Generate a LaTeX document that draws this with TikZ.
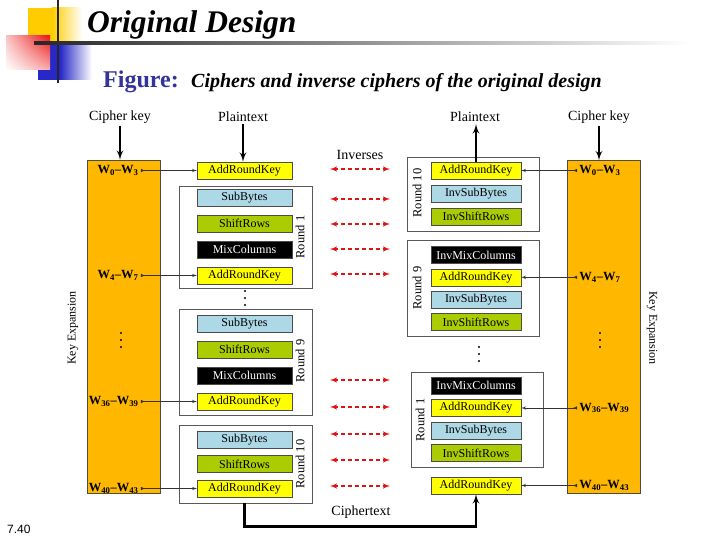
\documentclass[tikz,border=0pt]{standalone}
\usepackage{fontspec}
\setmainfont{Liberation Serif}
\newfontfamily\slidesans{Liberation Sans}
\usepackage{tikz}
\usetikzlibrary{arrows, positioning, shadings}
\usepackage{xcolor}
\definecolor{keyorange}{RGB}{255,183,0}
\definecolor{arkyellow}{RGB}{255,255,0}
\definecolor{subblue}{RGB}{173,216,230}
\definecolor{shiftgreen}{RGB}{170,204,0}
\definecolor{figblue}{RGB}{51,51,153}
\definecolor{invred}{RGB}{225,20,20}
\definecolor{decoyellow}{RGB}{255,204,0}
\definecolor{decoblue}{RGB}{40,40,200}
\definecolor{decored}{RGB}{235,20,20}
\tikzstyle{stagebox} = [rectangle, draw=gray!60!black, line width=0.4pt, minimum width=95pt, minimum height=17pt, inner sep=0pt, font=\fontsize{12}{12}\selectfont]
\tikzstyle{arkbox} = [stagebox, fill=arkyellow]
\tikzstyle{subbox} = [stagebox, fill=subblue]
\tikzstyle{shiftbox} = [stagebox, fill=shiftgreen]
\tikzstyle{mixbox} = [stagebox, fill=black, text=white]
\tikzstyle{invbox} = [minimum width=90pt]
\tikzstyle{roundframe} = [rectangle, draw=gray!70!black, fill=white, line width=0.8pt, inner sep=0pt]
\tikzstyle{roundlbl} = [rotate=90, font=\fontsize{12.5}{12.5}\selectfont, inner sep=0pt]
\tikzstyle{keybar} = [rectangle, draw=black!70, fill=keyorange, minimum width=73pt, minimum height=333pt, inner sep=0pt]
\tikzstyle{wlbl} = [font=\fontsize{12.5}{12.5}\selectfont, inner sep=2pt]
\tikzstyle{toplbl} = [font=\fontsize{14}{14}\selectfont, inner sep=2pt]
\tikzstyle{sidelbl} = [font=\fontsize{12}{12}\selectfont, inner sep=0pt]
\tikzstyle{keyline} = [draw, black!80, line width=0.6pt, latex reversed-latex']
\tikzstyle{bigline} = [draw, line width=2.2pt, -latex']
\tikzstyle{invline} = [draw, invred, line width=1.4pt, dash pattern=on 4pt off 3pt, latex'-latex']
\newcommand{\wrange}[2]{\textbf{W\textsubscript{#1}--W\textsubscript{#2}}}

\begin{document}
\begin{tikzpicture}[x=1pt, y=-1pt, node distance=26pt]
    \useasboundingbox (0,0) rectangle (720,540);

    % Slide decoration
    \fill[decoyellow] (28,8) rectangle (52,42);
    \shade[left color=decoyellow, right color=white] (52,8) rectangle (82,42);
    \fill[decoblue] (38,43) rectangle (60,80);
    \shade[left color=decoblue, right color=white] (60,43) rectangle (92,80);
    \shade[upper left=decored!25!white, upper right=decored, lower left=white, lower right=decored!35!white] (6,36) rectangle (50,70);
    \draw[black!85, line width=2pt] (58,0) -- (58,83);
    \shade[left color=black!85, right color=white] (34,42) rectangle (690,44.5);

    % Titles
    \node[anchor=base west, inner sep=0pt, font=\fontsize{31.5}{31.5}\selectfont\bfseries\itshape] (title) at (87,33) {Original Design};
    \node[anchor=base west, inner sep=0pt, font=\fontsize{24}{24}\selectfont\bfseries, text=figblue] (figword) at (103,88) {Figure:};
    \node[anchor=base west, inner sep=0pt, font=\fontsize{20}{20}\selectfont\bfseries\itshape] (caption) at (191,88) {Ciphers and inverse ciphers of the original design};
    \node[anchor=base west, inner sep=0pt, font=\slidesans\fontsize{12}{12}\selectfont] (pageno) at (7,533) {7.40};

    % Key expansion bars
    \node[keybar] (keyL) at (123.5,326.5) {};
    \node[keybar] (keyR) at (603.5,327) {};
    \node[sidelbl, rotate=90] (kexL) at (73,328) {Key Expansion};
    \node[sidelbl, rotate=-90] (kexR) at (652,328) {Key Expansion};

    % Cipher rounds
    \node[roundframe, minimum width=133pt, minimum height=102pt] (enc1) at (245.5,237) {};
    \node[roundframe, minimum width=133pt, minimum height=106pt] (enc9) at (245.5,362) {};
    \node[roundframe, minimum width=133pt, minimum height=78pt] (enc10) at (245.5,464) {};
    \node[roundlbl] (lenc1) at (300,237) {Round 1};
    \node[roundlbl] (lenc9) at (300,361) {Round 9};
    \node[roundlbl] (lenc10) at (300,464) {Round 10};

    \node[arkbox] (ark0) at (244.5,170.5) {AddRoundKey};
    \node[subbox] (sb1) at (244.5,197.5) {SubBytes};
    \node[shiftbox, below of=sb1] (sr1) {ShiftRows};
    \node[mixbox, below of=sr1] (mc1) {MixColumns};
    \node[arkbox, below of=mc1] (ark1) {AddRoundKey};

    \node[subbox] (sb9) at (244.5,323.5) {SubBytes};
    \node[shiftbox, below of=sb9] (sr9) {ShiftRows};
    \node[mixbox, below of=sr9] (mc9) {MixColumns};
    \node[arkbox, below of=mc9] (ark9) {AddRoundKey};

    \node[subbox] (sb10) at (244.5,439.5) {SubBytes};
    \node[shiftbox, below of=sb10, node distance=24.5pt] (sr10) {ShiftRows};
    \node[arkbox, below of=sr10, node distance=24.5pt] (ark10) {AddRoundKey};

    % Inverse cipher rounds
    \node[roundframe, minimum width=132pt, minimum height=74pt] (dec10) at (473,194) {};
    \node[roundframe, minimum width=132pt, minimum height=96pt] (dec9) at (473,288) {};
    \node[roundframe, minimum width=132pt, minimum height=95pt] (dec1) at (477,419.5) {};
    \node[roundlbl] (ldec10) at (417,193) {Round 10};
    \node[roundlbl] (ldec9) at (417,288) {Round 9};
    \node[roundlbl] (ldec1) at (420,420) {Round 1};

    \node[arkbox, invbox] (dark10) at (476,170.5) {AddRoundKey};
    \node[subbox, invbox, below of=dark10, node distance=23pt] (dsb10) {InvSubBytes};
    \node[shiftbox, invbox, below of=dsb10, node distance=23pt] (dsr10) {InvShiftRows};

    \node[mixbox, invbox] (dmc9) at (476,255) {InvMixColumns};
    \node[arkbox, invbox, below of=dmc9, node distance=22.3pt] (dark9) {AddRoundKey};
    \node[subbox, invbox, below of=dark9, node distance=22.3pt] (dsb9) {InvSubBytes};
    \node[shiftbox, invbox, below of=dsb9, node distance=22.3pt] (dsr9) {InvShiftRows};

    \node[mixbox, invbox] (dmc1) at (476,385.5) {InvMixColumns};
    \node[arkbox, invbox, below of=dmc1, node distance=22.5pt] (dark1) {AddRoundKey};
    \node[subbox, invbox, below of=dark1, node distance=22.5pt] (dsb1) {InvSubBytes};
    \node[shiftbox, invbox, below of=dsb1, node distance=22.5pt] (dsr1) {InvShiftRows};
    \node[arkbox, invbox] (dark0) at (476,485.5) {AddRoundKey};

    % Vertical ellipses
    \foreach \x/\y in {121/333, 600/333, 245/291, 479/347}
        \foreach \k in {0,1,2}
            \fill (\x,\y+7*\k) circle (1.1pt);

    % Inputs and outputs
    \node[toplbl] (ckL) at (120,117) {Cipher key};
    \node[toplbl] (ptL) at (243,117) {Plaintext};
    \node[toplbl] (ptR) at (475,117) {Plaintext};
    \node[toplbl] (ckR) at (599,117) {Cipher key};
    \node[toplbl] (inverses) at (360,155) {Inverses};
    \node[toplbl] (ciphertext) at (361,512) {Ciphertext};

    \path[bigline] (ckL) -- (ckL |- keyL.north);
    \path[bigline] (ptL) -- (ptL |- ark0.north);
    \path[bigline] (dark10.north) -- (dark10.north |- ptR.south);
    \path[bigline] (ckR) -- (ckR |- keyR.north);
    \path[bigline] (enc10.south -| ark10) -- ++(0,23) -| (dark0.south);

    % Round keys
    \node[wlbl, left=56pt of ark0] (wL0) {\wrange{0}{3}};
    \node[wlbl, left=56pt of ark1] (wL4) {\wrange{4}{7}};
    \node[wlbl, left=56pt of ark9] (wL36) {\wrange{36}{39}};
    \node[wlbl, left=56pt of ark10] (wL40) {\wrange{40}{43}};
    \node[wlbl, right=56pt of dark10] (wR0) {\wrange{0}{3}};
    \node[wlbl, right=56pt of dark9] (wR4) {\wrange{4}{7}};
    \node[wlbl, right=56pt of dark1] (wR36) {\wrange{36}{39}};
    \node[wlbl, right=56pt of dark0] (wR40) {\wrange{40}{43}};

    \path[keyline] (wL0.east) -- (ark0.west);
    \path[keyline] (wL4.east) -- (ark1.west);
    \path[keyline] (wL36.east) -- (ark9.west);
    \path[keyline] (wL40.east) -- (ark10.west);
    \path[keyline] (wR0.west) -- (dark10.east);
    \path[keyline] (wR4.west) -- (dark9.east);
    \path[keyline] (wR36.west) -- (dark1.east);
    \path[keyline] (wR40.west) -- (dark0.east);

    % Inverse pairs
    \foreach \y [count=\i] in {169,199,224,249,274,380,407,434,460,486} {
        \coordinate (invA\i) at (330,\y);
        \coordinate (invB\i) at (390,\y);
        \path[invline] (invA\i) -- (invB\i);
    }
\end{tikzpicture}
\end{document}
